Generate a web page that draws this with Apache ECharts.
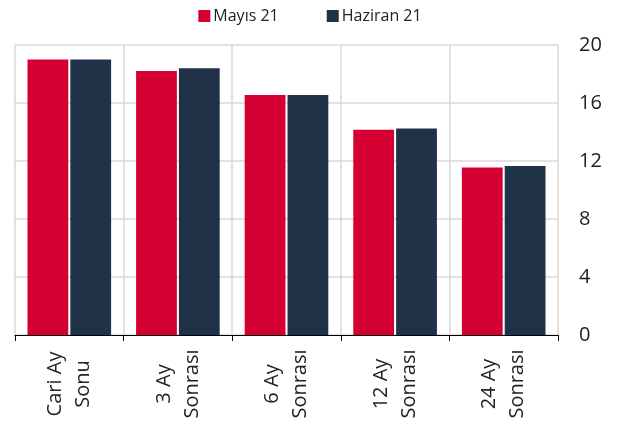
<!DOCTYPE html>
<html>
<head>
<meta charset="utf-8">
<script src="https://cdn.jsdelivr.net/npm/echarts@6/dist/echarts.min.js"></script>
<style>html,body{margin:0;padding:0;background:#fff}#c{width:620px;height:429px}</style>
</head>
<body>
<div id="c"></div>
<script>
const categories = ["Cari Ay\nSonu", "3 Ay\nSonrası", "6 Ay\nSonrası", "12 Ay\nSonrası", "24 Ay\nSonrası"];
const mayis = [19.0, 18.2, 16.55, 14.15, 11.55];
const haziran = [19.0, 18.4, 16.55, 14.25, 11.65];
const seriesNames = ["Mayıs 21", "Haziran 21"];
const yTicks = { min: 0, max: 20, interval: 4 };

const font = '"Open Sans", "Noto Sans", sans-serif';
const chart = echarts.init(document.getElementById('c'), null, { renderer: 'canvas' });
chart.setOption({
  animation: false,
  backgroundColor: '#fff',
  textStyle: { fontFamily: font },
  legend: {
    top: 3, left: 'center', itemWidth: 12, itemHeight: 12, itemGap: 48,
    icon: 'rect',
    textStyle: { fontSize: 16, color: '#222', fontFamily: font, padding: [0, 0, 0, -2] },
    data: seriesNames
  },
  grid: { left: 15, right: 62, top: 45, bottom: 94, containLabel: false },
  xAxis: {
    type: 'category', data: categories, boundaryGap: true,
    axisLine: { lineStyle: { color: '#000', width: 1 } },
    axisTick: { show: true, length: 6, lineStyle: { color: '#000' } },
    splitLine: { show: true, lineStyle: { color: '#d9d9d9', width: 1.5 } },
    axisLabel: {
      rotate: 90, align: 'center', verticalAlign: 'middle', margin: 49,
      fontSize: 20, color: '#222', lineHeight: 28, fontFamily: font
    }
  },
  yAxis: {
    type: 'value', position: 'right', min: yTicks.min, max: yTicks.max, interval: yTicks.interval,
    axisLine: { show: false }, axisTick: { show: false },
    splitLine: { show: true, lineStyle: { color: '#d9d9d9', width: 1.5 } },
    axisLabel: { fontSize: 20, color: '#222', margin: 21, fontFamily: font }
  },
  series: [
    { name: seriesNames[0], type: 'bar', data: mayis, barGap: '5%', barCategoryGap: '23%',
      itemStyle: { color: '#D50032' } },
    { name: seriesNames[1], type: 'bar', data: haziran,
      itemStyle: { color: '#1F3247' } }
  ]
});
</script>
</body>
</html>
